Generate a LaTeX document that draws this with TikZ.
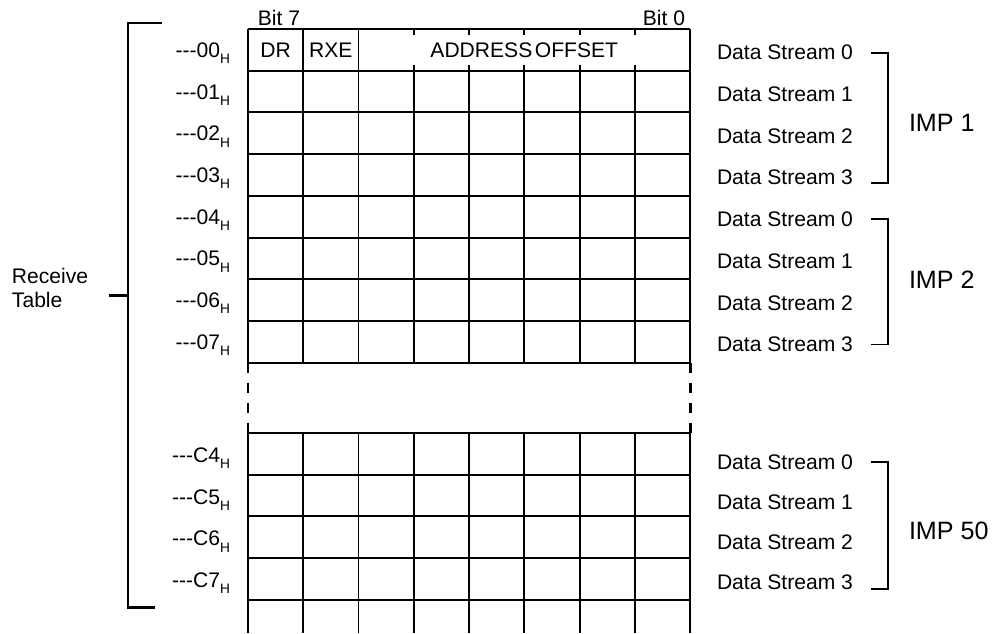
\documentclass[tikz,border=0pt]{standalone}
\usepackage{fontspec}
\setmainfont{Liberation Sans}
\newcommand{\hsub}{\raisebox{-3.6pt}{\fontsize{7.8}{8}\selectfont H}}
\begin{document}
\begin{tikzpicture}[x=0.02cm, y=-0.02cm, line width=1.13pt,
    every node/.style={inner sep=0pt, font=\fontsize{12}{13.2}\selectfont},
    brk/.style={line width=1.7pt},
    gap/.style={line width=1.7pt, dash pattern=on 5.7pt off 5.7pt},
    imp/.style={anchor=west, font=\fontsize{14.3}{17}\selectfont}]
    % -------- parameters --------
    \def\xl{248}
    \def\xr{690}
    \def\cw{55.25}
    \def\ytop{29}
    \def\rh{41.7}
    \def\ymid{362.6}
    \def\ylow{433}
    \useasboundingbox (0,0) rectangle (997,633);

    % ======== upper table: rows 00 .. 07 ========
    \foreach \i in {0,...,8}
        \draw (\xl,\ytop+\i*\rh) -- (\xr,\ytop+\i*\rh);
    \draw (\xl,\ytop) -- (\xl,\ymid);
    \draw (\xr,\ytop) -- (\xr,\ymid);
    \foreach \c in {1,2}
        \draw (\xl+\c*\cw,\ytop) -- (\xl+\c*\cw,\ymid);
    % address offset field: only short ticks in the first row
    \foreach \c in {3,...,7} {
        \draw (\xl+\c*\cw,\ytop) -- (\xl+\c*\cw,\ytop+6);
        \draw (\xl+\c*\cw,\ytop+\rh-6) -- (\xl+\c*\cw,\ymid);
    }

    % bit numbers and fields
    \node[anchor=base] (bit7) at (279,25) {Bit 7};
    \node[anchor=base] (bit0) at (664,25) {Bit 0};
    \node[anchor=base] (dr)  at (\xl+0.5*\cw,\ytop+0.5*\rh+7.5) {DR};
    \node[anchor=base] (rxe) at (\xl+1.5*\cw,\ytop+0.5*\rh+7.5) {RXE};
    \node[anchor=base] (addr) at (\xl+5*\cw,\ytop+0.5*\rh+7.5) {ADDRESS\hspace{0.12em}OFFSET};

    % ======== gap ========
    \draw[gap] (\xl,\ymid) -- (\xl,\ylow);
    \draw[gap] (\xr,\ymid) -- (\xr,\ylow);

    % ======== lower table: rows C4 .. C7 ========
    \foreach \i in {0,...,4}
        \draw (\xl,\ylow+\i*\rh) -- (\xr,\ylow+\i*\rh);
    \foreach \c in {0,...,8}
        \draw (\xl+\c*\cw,\ylow) -- (\xl+\c*\cw,633);

    % row addresses
    \foreach \n [count=\i from 0] in {00,01,02,03,04,05,06,07}
        \node[anchor=base east] (a\n) at (231,\ytop+\i*\rh+0.5*\rh+7.5) {{-}{-}{-}\n\hsub};
    \foreach \n [count=\i from 0] in {C4,C5,C6,C7}
        \node[anchor=base east] (a\n) at (231,\ylow+\i*\rh+0.5*\rh+8.5) {{-}{-}{-}\n\hsub};

    % data streams
    \foreach \n in {0,...,3} {
        \node[anchor=base west] (dsa\n) at (716,\ytop+\n*\rh+0.5*\rh+10) {Data Stream \n};
        \node[anchor=base west] (dsb\n) at (716,\ytop+\n*\rh+4.5*\rh+10) {Data Stream \n};
        \node[anchor=base west] (dsc\n) at (716,462+\n*40+7.5) {Data Stream \n};
    }

    % IMP brackets
    \draw (dsa0.east -| 871,0) -- (dsa0.east -| 888,0) -- ([yshift=-3pt]dsa3.east -| 888,0) -- ([yshift=-3pt]dsa3.east -| 871,0);
    \draw (dsb0.east -| 871,0) -- (dsb0.east -| 888,0) -- (dsb3.east -| 888,0) -- (dsb3.east -| 871,0);
    \draw (dsc0.east -| 871,0) -- (dsc0.east -| 888,0) -- ([yshift=-4pt]dsc3.east -| 888,0) -- ([yshift=-4pt]dsc3.east -| 871,0);
    \node[imp] (imp1)  at (908,123) {IMP 1};
    \node[imp] (imp2)  at (908,280) {IMP 2};
    \node[imp] (imp50) at (908,531) {IMP 50};

    % receive table bracket
    \coordinate (bt) at (162,23);
    \coordinate (bb) at (155,607);
    \coordinate (bk) at (109,295);
    \draw[brk] (bt) -- (128,23) -- (128,607) -- (bb);
    \draw[brk] (bk) -- (bk -| 128,0);
    \node[anchor=west, align=left] (rt) at (11,288) {Receive\\Table};

\end{tikzpicture}
\end{document}
